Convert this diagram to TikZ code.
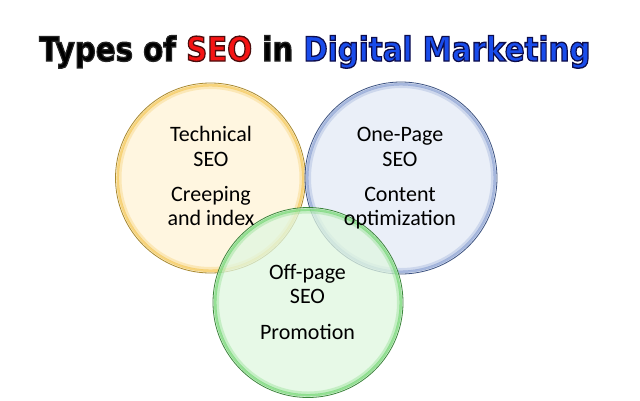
\documentclass[tikz,border=0pt]{standalone}
\usepackage{fontspec}
\usepackage{graphicx}
\setmainfont{Carlito}
\newfontfamily\titlefont{DejaVu Sans}
\definecolor{yfill}{HTML}{FFF3D6}
\definecolor{yrim}{HTML}{F2BE3C}
\definecolor{yline}{HTML}{A07E1C}
\definecolor{bfill}{HTML}{E4EAF6}
\definecolor{brim}{HTML}{7A93CC}
\definecolor{bline}{HTML}{2A4275}
\definecolor{gfill}{HTML}{E0F7E0}
\definecolor{grim}{HTML}{5ED05E}
\definecolor{gline}{HTML}{2A7A2A}
\newcommand{\olblack}{\special{pdf:literal direct 2 Tr 0.4 w 0 0 0 rg 0.15 0.15 0.15 RG}}
\newcommand{\olred}{\special{pdf:literal direct 0.96 0.08 0.08 rg 0.3 0.05 0.05 RG}}
\newcommand{\olblue}{\special{pdf:literal direct 0.1 0.3 0.92 rg 0.05 0.05 0.3 RG}}
\newcommand{\olreset}{\special{pdf:literal direct 0 Tr 0 g 0 G}}
\tikzset{
  lbl/.style={anchor=base, font=\fontsize{22}{24}\selectfont, text=black, inner sep=0pt},
}
\newcommand{\vennring}[5]{%
  \fill[#4, fill opacity=0.75] #2 circle (#3);
  \draw[#5rim, draw opacity=0.25, line width=3pt] #2 circle ({#3-4.5});
  \draw[#5rim, draw opacity=0.6, line width=2.5pt] #2 circle ({#3-2.2});
  \draw[#5line, draw opacity=0.9, line width=0.8pt] #2 circle (#3);
  \node[circle, minimum size={2*#3}, inner sep=0pt] (#1) at #2 {};
}
\begin{document}
\begin{tikzpicture}[x=1pt,y=-1pt]
\useasboundingbox (0,0) rectangle (640,400);
\fill[white] (0,0) rectangle (640,400);
\vennring{tech}{(210.5,178)}{95}{yfill}{y}
\vennring{onpage}{(401,178)}{96}{bfill}{b}
\vennring{offpage}{(308,302.5)}{95}{gfill}{g}
\node[anchor=base west, inner sep=0pt] (title) at (39,61)
  {\resizebox{551pt}{25.5pt}{\titlefont\bfseries\olblack Types of \olred SEO\olblack{} in \olblue Digital Marketing\olreset}};
\node[lbl] (t1) at (211,141) {Technical};
\node[lbl] (t2) at (211,166) {SEO};
\node[lbl] (t3) at (211,201.7) {Creeping};
\node[lbl] (t4) at (211,225.7) {and index};
\node[lbl] (o1) at (400,141) {One-Page};
\node[lbl] (o2) at (400,166) {SEO};
\node[lbl] (o3) at (400,201.7) {Content};
\node[lbl] (o4) at (400,225.7) {optimization};
\node[lbl] (f1) at (307.5,279) {Off-page};
\node[lbl] (f2) at (307.5,303) {SEO};
\node[lbl] (f3) at (307.5,339) {Promotion};
\end{tikzpicture}
\end{document}
